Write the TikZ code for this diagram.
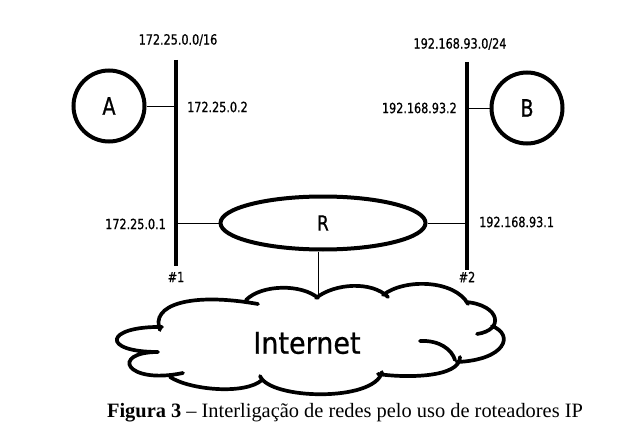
\documentclass[tikz,border=0pt]{standalone}
\usepackage{fontspec}
\setmainfont{Liberation Serif}
\newfontfamily\lblfont{DejaVu Sans}[FakeStretch=0.8,FakeBold=0.8]
\newfontfamily\netfont{DejaVu Sans}[FakeStretch=0.9,FakeBold=0.6]
\usetikzlibrary{shapes.geometric}
\tikzset{
  bus/.style={line width=4pt},
  link/.style={line width=0.9pt},
  host/.style={circle, draw, line width=4pt, minimum size=71pt, inner sep=0pt,
    font=\lblfont\fontsize{24}{24}\selectfont},
  router/.style={ellipse, draw, line width=4pt, minimum width=205pt, minimum height=53pt,
    inner sep=0pt, font=\lblfont\fontsize{21}{21}\selectfont},
  addr/.style={font=\lblfont\fontsize{14}{14}\selectfont, inner sep=0pt},
  cloudline/.style={line width=3.7pt, line cap=round},
  cloudtxt/.style={font=\netfont\fontsize{30}{30}\selectfont, inner sep=0pt},
  captxt/.style={font=\fontsize{20.4}{20.4}\selectfont, inner sep=0pt}
}
\begin{document}
\begin{tikzpicture}[x=1pt,y=-1pt]
\useasboundingbox[fill=white] (0,0) rectangle (627,436);
% buses
\coordinate (b1t) at (176,60);
\coordinate (b1b) at (176,266);
\coordinate (b2t) at (467,62);
\coordinate (b2b) at (467,270);
\draw[bus] (b1t) -- (b1b);
\draw[bus] (b2t) -- (b2b);
% hosts
\node[host] (A) at (109,106) {A};
\node[host] (B) at (527,108) {B};
\draw[link] (A.east) -- (A.east -| b1t);
\draw[link] (B.west) -- (B.west -| b2t);
% router
\node[router] (R) at (323,223) {R};
\draw[link] (R.west) -- (R.west -| b1t);
\draw[link] (R.east) -- (R.east -| b2t);
% labels
\node[addr] (n1) at (178,40) {172.25.0.0/16};
\node[addr,anchor=west] (a2) at (187,107) {172.25.0.2};
\node[addr] (n2) at (460,44) {192.168.93.0/24};
\node[addr,anchor=east] (b2) at (457,108) {192.168.93.2};
\node[addr,anchor=east] (a1) at (166,224) {172.25.0.1};
\node[addr,anchor=west] (r2) at (479,222) {192.168.93.1};
\node[addr] (h1) at (176,277) {\#1};
\node[addr] (h2) at (467,277) {\#2};
% cloud
\coordinate (ct) at (318,297);
\draw[link] (ct |- R.south) -- (ct);
\draw[cloudline]
  (160,330) .. controls (150,305) and (190,292) .. (258,304)
  (246,300) .. controls (262,284) and (302,284) .. (318,298)
  (316,298) .. controls (335,283) and (372,281) .. (388,297)
  (383,295) .. controls (405,278) and (455,280) .. (468,304)
  (466,302) .. controls (500,305) and (505,330) .. (477,334)
  (492,326) .. controls (515,335) and (505,360) .. (457,362)
  (420,341) .. controls (440,340) and (452,350) .. (455,360)
  (460,357) .. controls (460,378) and (405,378) .. (378,374)
  (382,372) .. controls (375,402) and (270,400) .. (260,376)
  (262,380) .. controls (245,395) and (190,390) .. (170,377)
  (183,373) .. controls (125,385) and (110,352) .. (158,352)
  (158,352) .. controls (100,352) and (105,326) .. (162,327);
\node[cloudtxt] (net) at (307,343) {Internet};
% caption
\node[captxt] (cap) at (345,413) {\textbf{Figura 3} -- Interligação de redes pelo uso de roteadores IP};
\end{tikzpicture}
\end{document}
